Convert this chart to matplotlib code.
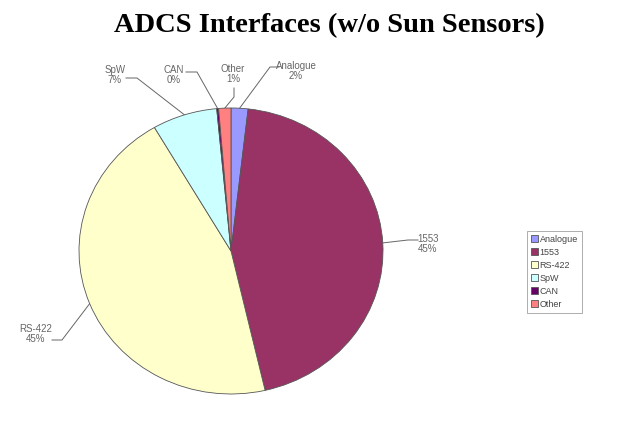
import numpy as np
import matplotlib
matplotlib.use("Agg")
import matplotlib.pyplot as plt

# interface share of ADCS units, percent
labels = ["Analogue", "1553", "RS-422", "SpW", "CAN", "Other"]
shares = [1.8, 44.6, 45.2, 6.9, 0.2, 1.3]
colors = ["#9999FF", "#993366", "#FFFFCC", "#CCFFFF", "#660066", "#FF8080"]

W, H = 626, 424
fig = plt.figure(figsize=(W / 100, H / 100), dpi=100)
fig.patch.set_facecolor("white")

# overlay axes in pixel units (y measured from the top)
ov = fig.add_axes([0, 0, 1, 1])
ov.set_xlim(0, W)
ov.set_ylim(H, 0)
ov.axis("off")

# pie box in pixels
cx, cy, rx, ry = 231, 251, 152, 143
pa = fig.add_axes([(cx - rx) / W, 1 - (cy + ry) / H, 2 * rx / W, 2 * ry / H])
pa.set_zorder(ov.get_zorder() + 1)
pa.patch.set_alpha(0)
wedges, _ = pa.pie(shares, colors=colors, startangle=90, counterclock=False,
                   radius=1, wedgeprops=dict(edgecolor="#555555", linewidth=0.6))
pa.set_xlim(-1, 1)
pa.set_ylim(-1, 1)
pa.set_aspect("auto")
pa.axis("off")

fig.text(329 / W, 1 - 26 / H, "ADCS Interfaces (w/o Sun Sensors)", ha="center", va="center",
         family="Liberation Serif", fontweight="bold", fontsize=20.5, color="black")

# label text centre, leader start and elbow, pixels
label_pos = {
    "Analogue": ((296, 71), (279, 67), (270, 67)),
    "1553": ((428, 244), (418, 240), (408, 240)),
    "RS-422": ((36, 334), (52, 340), (62, 340)),
    "SpW": ((115, 75), (126, 78), (137, 78)),
    "CAN": ((174, 75), (186, 72), (197, 72)),
    "Other": ((233, 74), (234, 88), (234, 97)),
}

for w, name, v in zip(wedges, labels, shares):
    mid = np.deg2rad((w.theta1 + w.theta2) / 2)
    ex = cx + rx * np.cos(mid)
    ey = cy - ry * np.sin(mid)
    (tx, ty), (sx, sy), (bx, by) = label_pos[name]
    ov.text(tx, ty, f"{name}\n{v:.0f}%", ha="center", va="center", fontsize=7,
            family="Liberation Sans", color="#666666", linespacing=1.05)
    ov.plot([sx, bx, ex], [sy, by, ey], color="#666666", lw=0.7)

leg = fig.legend(wedges, labels, loc="upper left", bbox_to_anchor=(527 / W, 1 - 231 / H),
                 fontsize=6.5, frameon=True, fancybox=False, edgecolor="#888888",
                 handlelength=0.8, handleheight=0.8, handletextpad=0.2,
                 labelspacing=0.45, borderpad=0.4, borderaxespad=0)
leg.get_frame().set_linewidth(0.6)
for t in leg.get_texts():
    t.set_color("#444444")
    t.set_family("Liberation Sans")

fig.savefig("out.png", dpi=100, facecolor="white")
